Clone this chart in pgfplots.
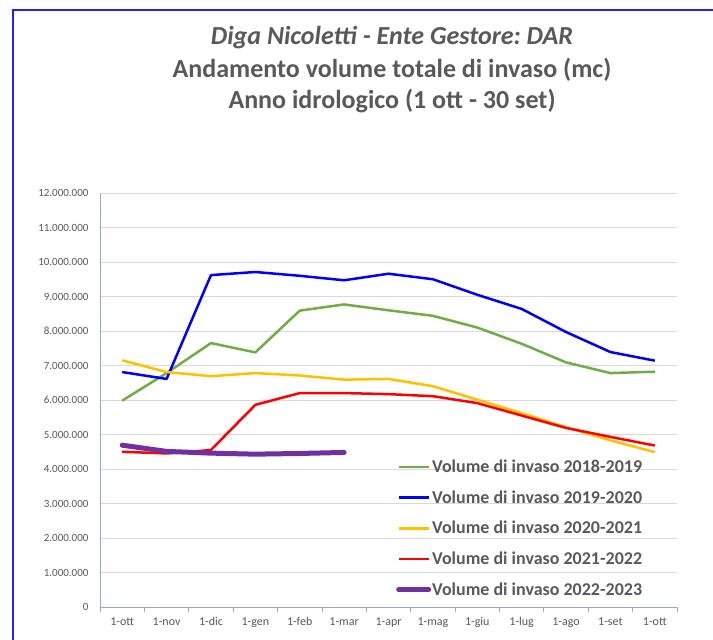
\documentclass[border=0pt]{standalone}
\usepackage{pgfplots}
\pgfplotsset{compat=1.18}
\usepackage{fontspec}
\setmainfont{Carlito}
\frenchspacing
\definecolor{titlegray}{HTML}{595959}
\definecolor{gridgray}{HTML}{D9D9D9}
\definecolor{axisblue}{HTML}{8FAADC}
\definecolor{borderblue}{HTML}{1F1FFF}
\definecolor{cgreen}{HTML}{70AD47}
\definecolor{cblue}{HTML}{0000FF}
\definecolor{cyellow}{HTML}{FFC000}
\definecolor{cred}{HTML}{FF0000}
\definecolor{cpurple}{HTML}{7030A0}

\pgfplotstableread{
x v1819 v1920 v2021 v2122
0 5980000 6810000 7150000 4500000
1 6780000 6610000 6810000 4450000
2 7650000 9620000 6690000 4550000
3 7380000 9710000 6780000 5860000
4 8590000 9600000 6710000 6200000
5 8770000 9470000 6590000 6200000
6 8600000 9660000 6610000 6170000
7 8440000 9500000 6400000 6110000
8 8100000 9050000 6010000 5910000
9 7630000 8640000 5620000 5550000
10 7090000 7970000 5210000 5190000
11 6780000 7390000 4830000 4930000
12 6820000 7140000 4490000 4680000
}\datatab

\pgfplotstableread{
x v2223
0 4690000
1 4510000
2 4460000
3 4430000
4 4450000
5 4480000
}\datatabb

\begin{document}
\begin{tikzpicture}[x=1pt,y=1pt]
\useasboundingbox (0,0) rectangle (713,640);
\fill[white] (0,0) rectangle (713,640);
\draw[line width=2pt, borderblue] (13,0) -- (13,630) -- (713,630);
\node[font=\fontsize{26}{31}\selectfont\bfseries\itshape, text=titlegray] at (392,602) {Diga Nicoletti - Ente Gestore: DAR};
\node[font=\fontsize{26}{31}\selectfont\bfseries, text=titlegray] at (392,570) {Andamento volume totale di invaso (mc)};
\node[font=\fontsize{26}{31}\selectfont\bfseries, text=titlegray] at (392,539) {Anno idrologico (1 ott - 30 set)};
\begin{axis}[
  at={(100pt,33pt)}, anchor=south west,
  scale only axis, width=577pt, height=414pt,
  xmin=-0.5, xmax=12.5, ymin=0, ymax=12000000,
  axis x line*=bottom, axis y line*=left,
  axis line style={axisblue, line width=0.8pt},
  xtick={0,1,2,3,4,5,6,7,8,9,10,11,12},
  xticklabels={1-ott,1-nov,1-dic,1-gen,1-feb,1-mar,1-apr,1-mag,1-giu,1-lug,1-ago,1-set,1-ott},
  minor xtick={-0.5,0.5,1.5,2.5,3.5,4.5,5.5,6.5,7.5,8.5,9.5,10.5,11.5,12.5},
  major tick length=0pt, minor tick length=5pt, tick align=outside,
  every tick/.style={axisblue, line width=0.8pt},
  ytick={0,1000000,2000000,3000000,4000000,5000000,6000000,7000000,8000000,9000000,10000000,11000000,12000000},
  yticklabels={0,1.000.000,2.000.000,3.000.000,4.000.000,5.000.000,6.000.000,7.000.000,8.000.000,9.000.000,10.000.000,11.000.000,12.000.000},
  scaled y ticks=false,
  ymajorgrids, grid style={gridgray, line width=0.8pt},
  tick label style={font=\fontsize{11}{13}\selectfont, text=titlegray},
  y tick label style={xshift=-8pt},
  x tick label style={yshift=-7pt, font=\fontsize{12}{14}\selectfont},
  legend style={at={(0.513,0.358)}, anchor=north west, draw=none, fill=none,
    font=\bfseries\fontsize{18}{21}\selectfont, text=titlegray, inner sep=0pt,
    row sep=14.5pt, nodes={inner sep=1pt}},
  legend cell align=left,
  legend image code/.code={\draw[#1] (0pt,0pt) -- (30pt,0pt);},
  clip=false,
]
\addplot[cgreen, line width=2.5pt, line join=round] table[x=x,y=v1819] {\datatab};
\addlegendentry{Volume di invaso 2018-2019}
\addplot[cblue, line width=2.5pt, line join=round] table[x=x,y=v1920] {\datatab};
\addlegendentry{Volume di invaso 2019-2020}
\addplot[cyellow, line width=2.5pt, line join=round] table[x=x,y=v2021] {\datatab};
\addlegendentry{Volume di invaso 2020-2021}
\addplot[cred, line width=2.5pt, line join=round] table[x=x,y=v2122] {\datatab};
\addlegendentry{Volume di invaso 2021-2022}
\addplot[cpurple, line width=5pt, line join=round, line cap=round] table[x=x,y=v2223] {\datatabb};
\addlegendentry{Volume di invaso 2022-2023}
\end{axis}
\end{tikzpicture}
\end{document}
